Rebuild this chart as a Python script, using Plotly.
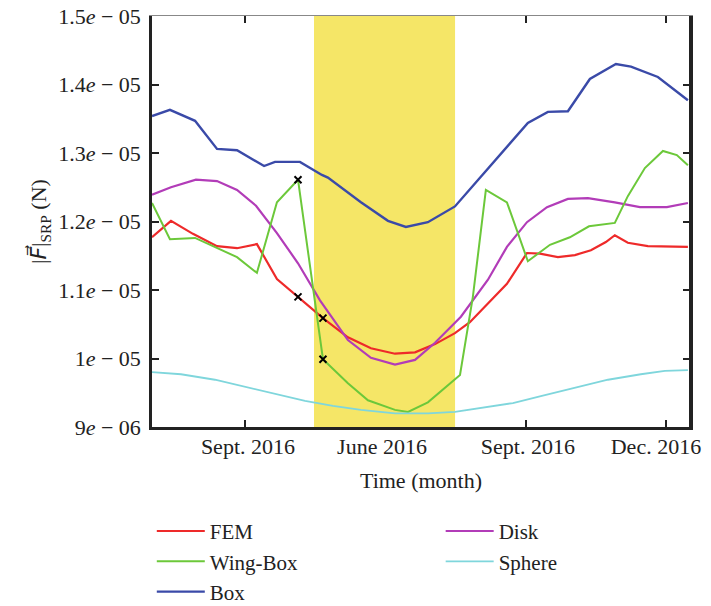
import plotly.graph_objects as go

# time axis in days over the plotted window
t_fem = [0, 12.7, 27.4, 43.5, 56.9, 70.2, 83.6, 97.7, 114.4, 131.1, 146.5, 162.6, 176.0, 189.4,
         202.7, 212.7, 224.8, 237.5, 250.9, 259.6, 271.6, 283.0, 293.7, 303.7, 309.7, 318.4,
         331.8, 347.9, 358.6]
f_fem = [11.77e-6, 12.01e-6, 11.82e-6, 11.64e-6, 11.61e-6, 11.67e-6, 11.16e-6, 10.90e-6,
         10.59e-6, 10.31e-6, 10.15e-6, 10.07e-6, 10.09e-6, 10.21e-6, 10.37e-6, 10.53e-6,
         10.81e-6, 11.09e-6, 11.54e-6, 11.53e-6, 11.48e-6, 11.51e-6, 11.58e-6, 11.70e-6,
         11.80e-6, 11.69e-6, 11.64e-6, 11.64e-6, 11.63e-6]

t_wing = [0, 12.0, 28.8, 43.5, 56.9, 70.2, 83.6, 97.7, 114.4, 131.1, 144.5, 162.6, 171.3,
          184.6, 196.0, 206.1, 214.7, 223.4, 237.5, 251.5, 266.3, 279.6, 292.4, 309.7, 318.4,
          329.8, 341.9, 351.2, 358.6]
f_wing = [12.27e-6, 11.74e-6, 11.76e-6, 11.61e-6, 11.48e-6, 11.25e-6, 12.28e-6, 12.61e-6,
          9.99e-6, 9.64e-6, 9.39e-6, 9.25e-6, 9.22e-6, 9.36e-6, 9.57e-6, 9.76e-6, 10.90e-6,
          12.46e-6, 12.28e-6, 11.42e-6, 11.66e-6, 11.77e-6, 11.93e-6, 11.98e-6, 12.37e-6,
          12.78e-6, 13.03e-6, 12.97e-6, 12.82e-6]

t_box = [0, 12.0, 28.8, 43.5, 56.9, 67.6, 75.0, 82.3, 99.0, 113.7, 117.7, 139.8, 157.9, 169.9,
         184.6, 202.7, 218.1, 241.5, 251.5, 264.9, 278.3, 293.0, 310.4, 320.5, 338.5, 358.6]
f_box = [13.54e-6, 13.63e-6, 13.47e-6, 13.06e-6, 13.04e-6, 12.90e-6, 12.81e-6, 12.87e-6,
         12.87e-6, 12.68e-6, 12.64e-6, 12.28e-6, 12.01e-6, 11.92e-6, 11.99e-6, 12.22e-6,
         12.61e-6, 13.19e-6, 13.44e-6, 13.60e-6, 13.61e-6, 14.08e-6, 14.30e-6, 14.26e-6,
         14.11e-6, 13.77e-6]

t_disk = [0, 12.7, 29.4, 43.5, 56.9, 69.6, 83.6, 97.7, 112.4, 131.1, 146.5, 162.6, 176.0,
          189.4, 206.7, 224.8, 237.5, 250.9, 264.3, 278.3, 291.7, 309.7, 326.5, 344.5, 358.6]
f_disk = [12.39e-6, 12.50e-6, 12.61e-6, 12.59e-6, 12.46e-6, 12.23e-6, 11.83e-6, 11.39e-6,
          10.85e-6, 10.27e-6, 10.01e-6, 9.91e-6, 9.98e-6, 10.23e-6, 10.61e-6, 11.15e-6,
          11.63e-6, 11.99e-6, 12.21e-6, 12.33e-6, 12.34e-6, 12.28e-6, 12.21e-6, 12.21e-6,
          12.27e-6]

t_sphere = [0, 19.4, 42.1, 64.2, 86.3, 102.4, 121.1, 139.8, 162.6, 184.6, 202.7, 219.4,
            241.5, 260.2, 283.0, 305.1, 327.1, 343.2, 358.6]
f_sphere = [9.80e-6, 9.77e-6, 9.69e-6, 9.58e-6, 9.47e-6, 9.38e-6, 9.31e-6, 9.25e-6, 9.20e-6,
            9.20e-6, 9.22e-6, 9.28e-6, 9.35e-6, 9.45e-6, 9.57e-6, 9.69e-6, 9.77e-6, 9.82e-6,
            9.83e-6]

# shaded season and x-axis ticks / labels
band = [108.4, 202.8]
tick_days = [62.2, 250.2, 343.9]
label_days = [64.2, 153.9, 251.5, 337.2]
label_text = ["Sept. 2016", "June 2016", "Sept. 2016", "Dec. 2016"]
y_ticks = [9e-6, 1.0e-5, 1.1e-5, 1.2e-5, 1.3e-5, 1.4e-5, 1.5e-5]
y_text = ["9<i>e</i> − 06", "1<i>e</i> − 05", "1.1<i>e</i> − 05", "1.2<i>e</i> − 05",
          "1.3<i>e</i> − 05", "1.4<i>e</i> − 05", "1.5<i>e</i> − 05"]

FONT = "Liberation Serif"

fig = go.Figure()

fig.add_shape(type="rect", xref="x", yref="paper", x0=band[0], x1=band[1], y0=0, y1=1,
              fillcolor="#f5e667", line_width=0, layer="below")

series = [
    ("FEM", t_fem, f_fem, "#ee2a2a", 2.2, "legend"),
    ("Disk", t_disk, f_disk, "#b23cb8", 2.2, "legend2"),
    ("Wing-Box", t_wing, f_wing, "#6cc83a", 2.0, "legend"),
    ("Sphere", t_sphere, f_sphere, "#7fd6dc", 1.8, "legend2"),
    ("Box", t_box, f_box, "#3a4aa8", 2.4, "legend"),
]
for name, t, f, color, w, lg in series:
    fig.add_trace(go.Scatter(x=t, y=f, mode="lines", name=name, legend=lg,
                             line=dict(color=color, width=w)))

# crossing markers on the FEM and Wing-Box curves
mx = [t_wing[7], t_fem[7], t_fem[8], t_wing[8]]
my = [f_wing[7], f_fem[7], f_fem[8], f_wing[8]]
fig.add_trace(go.Scatter(x=mx, y=my, mode="markers", showlegend=False,
                         marker=dict(symbol="x-thin", size=7, color="black",
                                     line=dict(width=2, color="black"))))

# top border with ticks
fig.add_trace(go.Scatter(x=[0], y=[1.2e-5], xaxis="x2", mode="markers",
                         marker=dict(opacity=0), showlegend=False, hoverinfo="skip"))
# bottom labels
fig.add_trace(go.Scatter(x=[0], y=[1.2e-5], xaxis="x3", mode="markers",
                         marker=dict(opacity=0), showlegend=False, hoverinfo="skip"))

fig.add_shape(type="line", xref="paper", yref="paper", x0=1, x1=1, y0=0, y1=1,
              line=dict(color="#222222", width=2))

# y-axis title
fig.add_annotation(xref="paper", yref="paper", x=-0.208, y=0.499, textangle=-90,
                   showarrow=False, xanchor="center", yanchor="middle",
                   text="|<span style='font-family:DejaVu Sans'><i>F⃗</i></span>|"
                        "<sub>SRP</sub> (N)",
                   font=dict(size=22, family=FONT, color="#222222"))

xr = [0, 360]
fig.update_layout(
    width=711, height=606,
    margin=dict(l=152, r=21, t=16, b=179, autoexpand=False),
    paper_bgcolor="white", plot_bgcolor="white",
    font=dict(family=FONT, size=22, color="#222222"),
    xaxis=dict(range=xr, tickvals=tick_days, ticks="inside", ticklen=7, tickwidth=2,
               tickcolor="#222222", showticklabels=False, showgrid=False, zeroline=False,
               showline=True, linecolor="#222222", linewidth=2.5, automargin=False,
               title=dict(text="Time (month)", font=dict(size=22), standoff=44)),
    xaxis2=dict(range=xr, overlaying="x", side="top", anchor="y", tickvals=tick_days,
                ticks="inside", ticklen=7, tickwidth=2, tickcolor="#222222",
                showticklabels=False, showgrid=False, zeroline=False, automargin=False,
                showline=True, linecolor="#888888", linewidth=1),
    xaxis3=dict(range=xr, overlaying="x", side="bottom", anchor="y", tickvals=label_days,
                ticktext=label_text, ticks="", showgrid=False, zeroline=False,
                showline=False, tickfont=dict(size=22), ticklabelstandoff=4,
                tickangle=0, automargin=False),
    yaxis=dict(range=[9e-6, 1.5e-5], tickvals=y_ticks, ticktext=y_text, ticks="inside",
               ticklen=7, tickwidth=2, tickcolor="#222222", mirror="ticks",
               showgrid=False, zeroline=False, showline=True, linecolor="#222222",
               linewidth=2.5, tickfont=dict(size=22), ticklabelstandoff=4, automargin=False),
    legend=dict(xref="container", yref="container", x=0.2135, y=0.157, xanchor="left",
                yanchor="top", font=dict(size=21), bgcolor="rgba(0,0,0,0)",
                tracegroupgap=0, itemwidth=48),
    legend2=dict(xref="container", yref="container", x=0.6198, y=0.157, xanchor="left",
                 yanchor="top", font=dict(size=21), bgcolor="rgba(0,0,0,0)",
                 tracegroupgap=0, itemwidth=48),
)

fig.write_html("out.html")
